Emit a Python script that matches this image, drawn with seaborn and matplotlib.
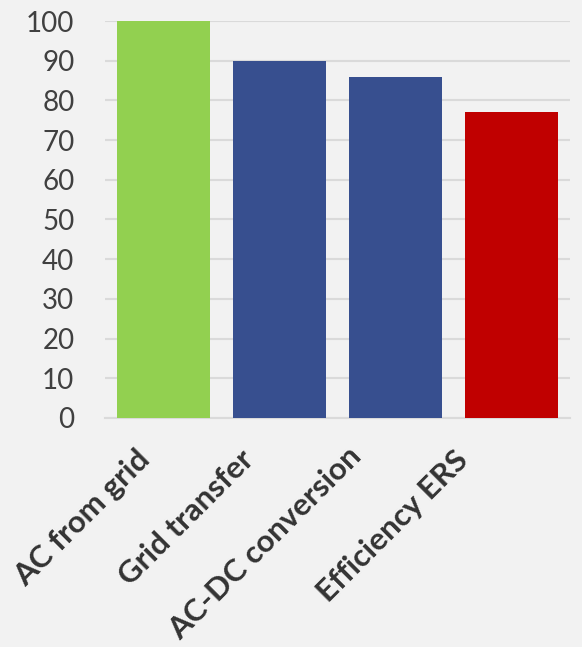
import matplotlib
matplotlib.use("Agg")
import matplotlib.pyplot as plt
import matplotlib.transforms as mtransforms
import seaborn as sns
import pandas as pd

categories = ["AC from grid", "Grid transfer", "AC-DC conversion", "Efficiency ERS"]
values = [100, 90, 86, 77]
bar_colors = ["#92D050", "#374F8F", "#374F8F", "#C00000"]
y_ticks = list(range(0, 101, 10))

df = pd.DataFrame({"stage": categories, "value": values})

sns.set_theme(style="white")
plt.rcParams["font.family"] = ["Lato", "DejaVu Sans"]

fig = plt.figure(figsize=(5.82, 6.47), dpi=100, facecolor="#F2F2F2")
ax = fig.add_axes([0.1804, 0.354, 0.799, 0.6135])
ax.set_facecolor("#F2F2F2")

sns.barplot(data=df, x="stage", y="value", hue="stage", palette=bar_colors,
            legend=False, width=0.8, saturation=1, linewidth=0, ax=ax, zorder=3)

ax.set_ylim(0, 100)
ax.set_xlim(-0.5, len(categories) - 0.5)
ax.set_yticks(y_ticks)
ax.yaxis.grid(True, color="#DADADA", linewidth=1.5, zorder=0)
ax.set_axisbelow(True)
for side in ["top", "right", "left"]:
    ax.spines[side].set_visible(False)
ax.spines["bottom"].set_color("#DADADA")
ax.spines["bottom"].set_linewidth(1.5)

ax.set_xlabel("")
ax.set_ylabel("")
ax.tick_params(axis="y", length=0, pad=22, labelsize=20, labelcolor="#404040")
ax.tick_params(axis="x", length=0, pad=14)
ax.set_xticks(range(len(categories)))
ax.set_xticklabels(categories, rotation=45, ha="right", rotation_mode="anchor",
                   fontsize=22.5, fontweight="bold", color="#333333")

# nudge the slanted category labels slightly left/down of their ticks
label_shift_x = [-28, -40, -49, -58]
label_shift_y = [-8, -8, -4, -8]
for lbl, dx, dy in zip(ax.get_xticklabels(), label_shift_x, label_shift_y):
    lbl.set_transform(lbl.get_transform() +
                      mtransforms.ScaledTranslation(dx / 100, dy / 100, fig.dpi_scale_trans))

fig.savefig("out.png", dpi=100, facecolor=fig.get_facecolor())
